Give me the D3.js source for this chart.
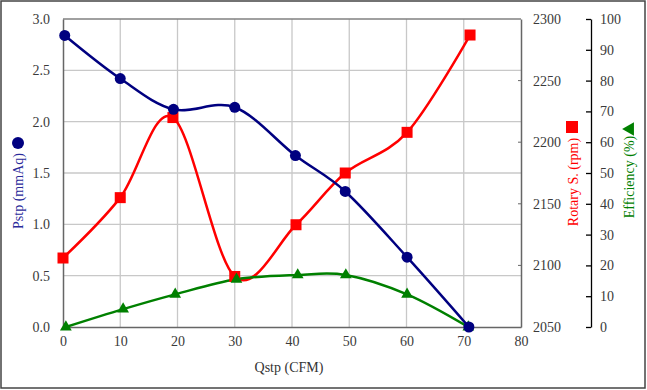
<!DOCTYPE html>
<html><head><meta charset="utf-8">
<script src="https://cdn.jsdelivr.net/npm/d3@7"></script>
<style>body{margin:0;background:#fff}svg{display:block}svg text{font-family:"Liberation Serif","Times New Roman",serif}</style>
</head><body>
<script>
const flowPstp = [0.3, 10.0, 19.3, 30.0, 40.6, 49.3, 60.1, 70.9];
const pstp =     [2.84, 2.42, 2.12, 2.14, 1.67, 1.32, 0.68, 0.0];
const flowRpm =  [0.0, 10.0, 19.2, 30.0, 40.7, 49.3, 60.1, 71.1];
const rpm =      [2106, 2155, 2220, 2091, 2133, 2175, 2208, 2287];
const flowEff =  [0.5, 10.5, 19.6, 30.3, 41.0, 49.4, 60.1, 70.8];
const eff =      [0.0, 5.8, 10.6, 15.5, 16.9, 16.9, 10.6, 0.0];
const xTicks = [0,10,20,30,40,50,60,70,80];
const yTicks = [0,0.5,1,1.5,2,2.5,3];
const rpmTicks = [2050,2100,2150,2200,2250,2300];
const effTicks = [0,10,20,30,40,50,60,70,80,90,100];

const W=647,H=390;
const L=63,R=521,T=19,B=327;
const font='"Liberation Serif","Times New Roman",serif';
const svg=d3.select('body').append('svg').attr('width',W).attr('height',H);
svg.append('rect').attr('x',1).attr('y',1).attr('width',W-3).attr('height',H-3)
  .attr('fill','#fff').attr('stroke','#444').attr('stroke-width',1.5);

const x=d3.scaleLinear().domain([0,80]).range([L,R]);
const y=d3.scaleLinear().domain([0,3]).range([B,T]);
const yR=d3.scaleLinear().domain([2050,2300]).range([B,T]);
const yE=d3.scaleLinear().domain([0,100]).range([B,T]);

// grid
const g=svg.append('g');
g.selectAll('.vg').data(xTicks.slice(1,-1)).enter().append('line')
 .attr('x1',d=>x(d)).attr('x2',d=>x(d)).attr('y1',T).attr('y2',B).attr('stroke','#c8c8c8').attr('stroke-width',1.3);
g.selectAll('.hg').data(yTicks.slice(1,-1)).enter().append('line')
 .attr('x1',L).attr('x2',R).attr('y1',d=>y(d)).attr('y2',d=>y(d)).attr('stroke','#c8c8c8').attr('stroke-width',1.3);
svg.append('line').attr('x1',L).attr('x2',R).attr('y1',T).attr('y2',T).attr('stroke','#808080').attr('stroke-width',1.3);

const axX=svg.append('g').attr('transform',`translate(0,${B})`).call(d3.axisBottom(x).tickValues(xTicks).tickSize(0).tickPadding(9));
const axY=svg.append('g').attr('transform',`translate(${L},0)`).call(d3.axisLeft(y).tickValues(yTicks).tickFormat(d3.format('.1f')).tickSize(0).tickPadding(13));
const axR=svg.append('g').attr('transform',`translate(${R},0)`).call(d3.axisRight(yR).tickValues(rpmTicks).tickFormat(d3.format('d')).tickSize(0).tickPadding(12));
axR.selectAll('.inTick').data(rpmTicks.slice(1,-1)).enter().append('line').attr('x1',-3).attr('x2',0).attr('y1',d=>yR(d)).attr('y2',d=>yR(d)).attr('stroke','#666');
const EX=591;
const axE=svg.append('g').attr('transform',`translate(${EX},0)`).call(d3.axisRight(yE).tickValues(effTicks).tickSizeInner(-5).tickSizeOuter(0).tickPadding(10));
[axX,axY,axR].forEach(a=>{a.select('.domain').attr('stroke','#666').attr('stroke-width',1.5);});
axE.select('.domain').attr('stroke','#000').attr('stroke-width',1.3);
axE.selectAll('.tick line').attr('stroke','#000').attr('stroke-width',1.3);
[axX,axY,axR,axE].forEach(a=>{a.attr('font-family',font).attr('font-size',14);a.selectAll('text').attr('font-family',font).attr('font-size',14).attr('fill','#3a3a3a');});
axE.selectAll('text').attr('x',9);

const curve=d3.curveCardinal.tension(0);
function series(xs,ys,sc,color){
  const pts=xs.map((v,i)=>[x(v),sc(ys[i])]);
  svg.append('path').attr('d',d3.line().curve(curve)(pts)).attr('fill','none').attr('stroke',color).attr('stroke-width',2.5);
  return pts;
}
const pR=series(flowRpm,rpm,yR,'#ff0000');
const pE=series(flowEff,eff,yE,'#008000');
const pP=series(flowPstp,pstp,y,'#000080');
svg.selectAll('.sq').data(pR).enter().append('rect').attr('x',d=>d[0]-5.5).attr('y',d=>d[1]-5.5).attr('width',11).attr('height',11).attr('fill','#ff0000');
const tri=d3.symbol().type(d3.symbolTriangle).size(60);
svg.selectAll('.tr').data(pE).enter().append('path').attr('d',tri).attr('transform',d=>`translate(${d[0]},${d[1]})`).attr('fill','#008000');
svg.selectAll('.ci').data(pP).enter().append('circle').attr('cx',d=>d[0]).attr('cy',d=>d[1]).attr('r',5.5).attr('fill','#000080');

svg.append('text').attr('x',(L+R)/2-3).attr('y',372).attr('text-anchor','middle').attr('font-family',font).attr('font-size',14).attr('fill','#333').text('Qstp (CFM)');
svg.append('text').attr('transform','translate(23,191) rotate(-90)').attr('text-anchor','middle').attr('font-family',font).attr('font-size',14).attr('fill','#2a2a9a').text('Pstp (mmAq)');
svg.append('circle').attr('cx',18).attr('cy',143).attr('r',6).attr('fill','#000080');
svg.append('text').attr('transform','translate(578,182) rotate(-90)').attr('text-anchor','middle').attr('font-family',font).attr('font-size',14).attr('fill','#ff0000').text('Rotary S. (rpm)');
svg.append('rect').attr('x',566).attr('y',121).attr('width',12).attr('height',12).attr('fill','#ff0000');
svg.append('text').attr('transform','translate(634,177) rotate(-90)').attr('text-anchor','middle').attr('font-family',font).attr('font-size',14).attr('fill','#008000').text('Efficiency (%)');
svg.append('path').attr('d',d3.symbol().type(d3.symbolTriangle).size(80)).attr('transform','translate(630,129) rotate(-90)').attr('fill','#008000');
</script>
</body></html>
